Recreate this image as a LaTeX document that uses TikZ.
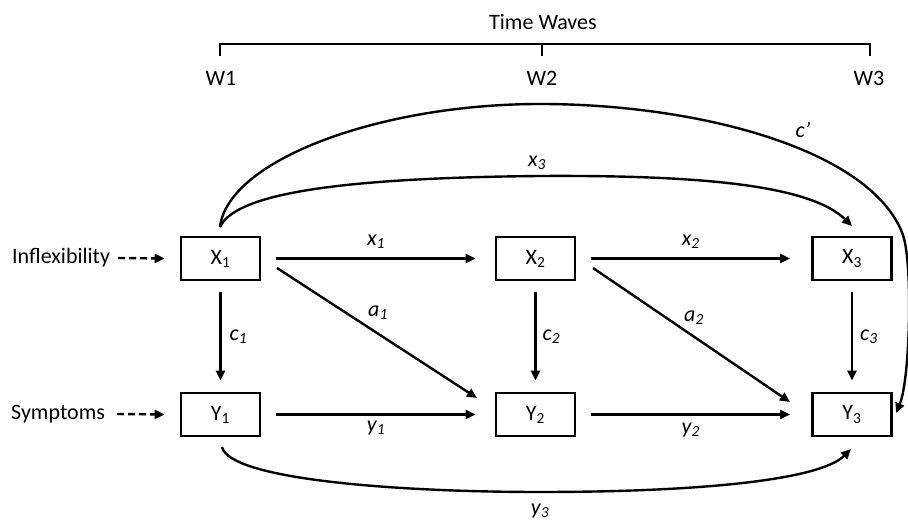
\documentclass[tikz,border=0pt]{standalone}
\usepackage{fontspec}
\setmainfont{Carlito}
\usetikzlibrary{arrows.meta}
\tikzset{
  var/.style={draw, line width=2.6pt, minimum width=79pt, minimum height=43pt, inner sep=0pt, font=\fontsize{22}{26}\selectfont},
  lbl/.style={font=\fontsize{22}{26}\selectfont\itshape, inner sep=0pt},
  txt/.style={font=\fontsize{22}{26}\selectfont, inner sep=0pt},
  arr/.style={line width=2.4pt, -{Triangle[length=10pt,width=9pt]}},
  darr/.style={line width=2.4pt, dash pattern=on 7pt off 4pt, -{Triangle[length=10pt,width=9pt]}},
  brk/.style={line width=2.6pt}
}
\begin{document}
\begin{tikzpicture}[x=1pt,y=-1pt]
\useasboundingbox (0,0) rectangle (908,521);
% time axis
\node[txt] (tw) at (543,22) {Time Waves};
\coordinate (b1) at (220,56);
\coordinate (b1t) at (220,44);
\coordinate (b2) at (542,56);
\coordinate (b2t) at (542,44);
\coordinate (b3) at (870,56);
\coordinate (b3t) at (870,44);
\draw[brk] (b1) -- (b1t) -- (b3t) -- (b3);
\draw[brk] (b2t) -- (b2);
\node[txt] (w1) at (221,78) {W1};
\node[txt] (w2) at (542,78) {W2};
\node[txt] (w3) at (869,78) {W3};
% boxes
\node[var] (X1) at (220.5,258.5) {X\textsubscript{1}};
\node[var] (X2) at (535.5,258.5) {X\textsubscript{2}};
\node[var] (X3) at (852,258.5) {X\textsubscript{3}};
\node[var] (Y1) at (220.5,414.5) {Y\textsubscript{1}};
\node[var] (Y2) at (535.5,414.5) {Y\textsubscript{2}};
\node[var] (Y3) at (852,414.5) {Y\textsubscript{3}};
% side labels
\node[txt, anchor=west] (inf) at (12,258) {Inflexibility};
\node[txt, anchor=west] (sym) at (11,414) {Symptoms};
\draw[darr] (inf.east) ++(8,0) coordinate (infs) -- ([xshift=-15pt]X1.west);
\draw[darr] (sym.east) ++(12,0) coordinate (syms) -- ([xshift=-15pt]Y1.west);
% horizontal arrows
\draw[arr] ([xshift=15pt]X1.east) -- node[lbl, above=9pt] {x\textsubscript{1}} ([xshift=-19pt]X2.west);
\draw[arr] ([xshift=15pt]X2.east) -- node[lbl, above=9pt] {x\textsubscript{2}} ([xshift=-21pt]X3.west);
\draw[arr] ([xshift=15pt]Y1.east) -- node[lbl, below=5pt] {y\textsubscript{1}} ([xshift=-19pt]Y2.west);
\draw[arr] ([xshift=15pt]Y2.east) -- node[lbl, below=7pt] {y\textsubscript{2}} ([xshift=-21pt]Y3.west);
% vertical arrows
\draw[arr] ([yshift=-11pt]X1.south) -- node[lbl, right=8pt] {c\textsubscript{1}} ([yshift=11pt]Y1.north);
\draw[arr] ([yshift=-11pt]X2.south) -- node[lbl, right=6pt] {c\textsubscript{2}} ([yshift=11pt]Y2.north);
\draw[arr] ([yshift=-11pt]X3.south) -- node[lbl, right=7pt] {c\textsubscript{3}} ([yshift=11pt]Y3.north);
% diagonals
\coordinate (a1s) at (277,268);
\coordinate (a1e) at (477,398);
\coordinate (a2s) at (593,268);
\coordinate (a2e) at (790,402);
\draw[arr] (a1s) -- (a1e);
\draw[arr] (a2s) -- (a2e);
\node[lbl] (la1) at (378,313) {a\textsubscript{1}};
\node[lbl] (la2) at (694,318) {a\textsubscript{2}};
% long curves
\coordinate (top) at (220,227);
\coordinate (x3e) at (852,226);
\draw[arr] (top) .. controls (235,195) and (330,178) .. (540,176)
  .. controls (700,175) and (810,185) .. (x3e);
\node[lbl] (lx3) at (537,163) {x\textsubscript{3}};
\coordinate (cpe) at (896,413);
\draw[arr] (top) .. controls (228,160) and (380,104) .. (540,104)
  .. controls (700,104) and (872,150) .. (903,235)
  .. controls (913,265) and (910,380) .. (cpe);
\node[lbl] (lcp) at (803,130) {c’};
\coordinate (y3s) at (222,447);
\coordinate (y3e) at (851,449);
\draw[arr] (y3s) .. controls (230,480) and (400,492) .. (540,492)
  .. controls (700,492) and (820,480) .. (y3e);
\node[lbl] (ly3) at (540,511) {y\textsubscript{3}};
\end{tikzpicture}
\end{document}
